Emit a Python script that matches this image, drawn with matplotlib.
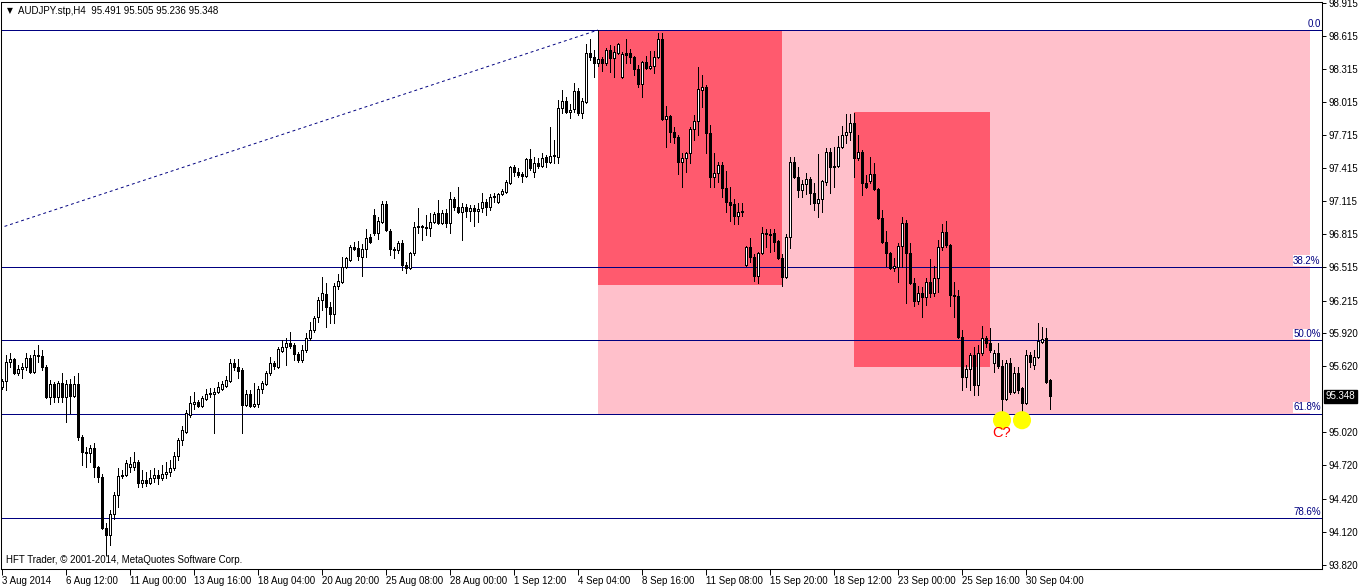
import matplotlib
matplotlib.use('Agg')
import matplotlib.pyplot as plt
from matplotlib.patches import Rectangle
import numpy as np

plt.rcParams['font.family'] = ['Liberation Sans', 'DejaVu Sans']

# AUDJPY H4 bars, 3 Aug 2014 20:00 .. 1 Oct 2014 04:00
opens = [
    95.432, 95.486, 95.658, 95.685, 95.558, 95.595, 95.613, 95.694, 95.567, 95.722,
    95.713, 95.613, 95.341, 95.459, 95.341, 95.468, 95.341, 95.459, 95.350, 95.459,
    94.978, 94.842, 94.833, 94.879, 94.706, 94.616, 94.153, 94.090, 94.280, 94.453,
    94.625, 94.634, 94.706, 94.706, 94.752, 94.561, 94.588, 94.561, 94.606, 94.634,
    94.606, 94.643, 94.661, 94.697, 94.806, 94.951, 95.023, 95.178, 95.278, 95.296,
    95.259, 95.323, 95.368, 95.368, 95.386, 95.413, 95.441, 95.486, 95.649, 95.613,
    95.585, 95.269, 95.368, 95.259, 95.278, 95.413, 95.459, 95.558, 95.649, 95.613,
    95.758, 95.794, 95.830, 95.812, 95.731, 95.676, 95.767, 95.876, 95.948, 96.066,
    96.220, 96.275, 96.157, 96.093, 96.347, 96.383, 96.519, 96.583, 96.701, 96.692,
    96.610, 96.682, 96.791, 96.991, 96.828, 96.927, 97.090, 96.846, 96.682, 96.673,
    96.737, 96.537, 96.510, 96.646, 96.882, 96.891, 96.882, 96.873, 96.927, 97.009,
    96.918, 97.009, 96.918, 97.136, 97.063, 97.018, 97.063, 97.027, 97.054, 97.027,
    97.054, 97.109, 97.063, 97.163, 97.109, 97.181, 97.199, 97.281, 97.426, 97.381,
    97.362, 97.344, 97.498, 97.381, 97.462, 97.435, 97.517, 97.471, 97.535, 97.517,
    97.961, 98.024, 97.925, 97.952, 98.115, 97.916, 98.015, 98.460, 98.423, 98.369,
    98.405, 98.369, 98.487, 98.414, 98.460, 98.242, 98.460, 98.460, 98.423, 98.314,
    98.179, 98.378, 98.323, 98.342, 98.423, 98.586, 97.861, 97.888, 97.743, 97.698,
    97.471, 97.508, 97.553, 97.770, 97.843, 98.124, 98.151, 97.734, 97.335, 97.372,
    97.444, 97.236, 97.109, 97.090, 96.982, 97.018, 96.537, 96.701, 96.610, 96.438,
    96.646, 96.828, 96.819, 96.828, 96.755, 96.601, 96.429, 96.791, 97.471, 97.335,
    97.217, 97.272, 97.317, 97.190, 97.100, 97.136, 97.290, 97.562, 97.426, 97.435,
    97.607, 97.716, 97.743, 97.825, 97.508, 97.562, 97.281, 97.299, 97.362, 97.227,
    96.964, 96.746, 96.646, 96.510, 96.519, 96.710, 96.918, 96.646, 96.374, 96.211,
    96.284, 96.247, 96.383, 96.284, 96.420, 96.701, 96.837, 96.719, 96.266, 96.256,
    95.885, 95.522, 95.595, 95.722, 95.450, 95.740, 95.876, 95.830, 95.649, 95.740,
    95.622, 95.323, 95.649, 95.386, 95.558, 95.422, 95.287, 95.722, 95.631, 95.704,
    95.840, 95.876, 95.491]
highs = [
    95.504, 95.722, 95.740, 95.694, 95.631, 95.649, 95.740, 95.722, 95.767, 95.812,
    95.767, 95.631, 95.495, 95.477, 95.486, 95.558, 95.495, 95.504, 95.531, 95.558,
    94.996, 94.888, 94.906, 94.924, 94.715, 94.643, 94.199, 94.316, 94.480, 94.697,
    94.679, 94.770, 94.797, 94.842, 94.770, 94.679, 94.661, 94.679, 94.697, 94.679,
    94.724, 94.752, 94.770, 94.842, 94.969, 95.078, 95.223, 95.350, 95.386, 95.314,
    95.350, 95.413, 95.422, 95.422, 95.477, 95.486, 95.531, 95.685, 95.685, 95.685,
    95.604, 95.404, 95.404, 95.468, 95.441, 95.486, 95.576, 95.704, 95.667, 95.794,
    95.857, 95.876, 95.930, 95.830, 95.749, 95.812, 95.921, 96.021, 96.075, 96.247,
    96.429, 96.374, 96.202, 96.374, 96.456, 96.610, 96.610, 96.719, 96.746, 96.755,
    96.728, 96.864, 96.819, 97.045, 96.973, 97.118, 97.118, 96.864, 96.701, 96.755,
    96.764, 96.565, 96.655, 96.927, 97.054, 96.900, 96.991, 97.009, 97.018, 97.127,
    97.036, 97.045, 97.199, 97.154, 97.245, 97.100, 97.090, 97.081, 97.081, 97.100,
    97.190, 97.136, 97.181, 97.190, 97.190, 97.227, 97.308, 97.435, 97.444, 97.417,
    97.381, 97.508, 97.589, 97.517, 97.508, 97.553, 97.535, 97.789, 97.671, 98.033,
    98.124, 98.061, 97.997, 98.188, 98.142, 98.052, 98.541, 98.586, 98.487, 98.668,
    98.423, 98.505, 98.532, 98.523, 98.550, 98.469, 98.586, 98.496, 98.432, 98.351,
    98.387, 98.432, 98.478, 98.478, 98.641, 98.641, 97.979, 97.897, 97.789, 97.716,
    97.553, 97.562, 97.789, 97.897, 98.333, 98.260, 98.169, 97.807, 97.553, 97.471,
    97.471, 97.390, 97.245, 97.136, 97.100, 97.100, 96.710, 96.782, 96.637, 96.655,
    96.882, 96.864, 96.864, 96.864, 96.764, 96.637, 96.819, 97.517, 97.517, 97.426,
    97.308, 97.372, 97.335, 97.281, 97.544, 97.308, 97.598, 97.598, 97.607, 97.707,
    97.798, 97.906, 97.906, 97.916, 97.716, 97.580, 97.353, 97.517, 97.462, 97.236,
    97.036, 96.846, 96.655, 96.601, 96.737, 96.973, 96.945, 96.737, 96.420, 96.347,
    96.338, 96.420, 96.592, 96.528, 96.764, 96.909, 96.936, 96.728, 96.383, 96.311,
    95.948, 95.631, 95.740, 95.794, 95.812, 95.984, 95.894, 95.966, 95.767, 95.830,
    95.676, 95.676, 95.694, 95.613, 95.613, 95.432, 95.767, 95.749, 95.767, 96.012,
    95.975, 95.966, 95.505]
lows = [
    95.413, 95.404, 95.613, 95.549, 95.540, 95.513, 95.585, 95.558, 95.558, 95.658,
    95.585, 95.332, 95.278, 95.296, 95.296, 95.296, 95.114, 95.196, 95.341, 94.951,
    94.724, 94.706, 94.752, 94.616, 94.570, 94.144, 93.909, 93.999, 94.235, 94.343,
    94.606, 94.625, 94.661, 94.679, 94.525, 94.525, 94.534, 94.552, 94.570, 94.552,
    94.588, 94.606, 94.625, 94.679, 94.770, 94.906, 95.014, 95.159, 95.232, 95.250,
    95.250, 95.314, 95.341, 95.014, 95.377, 95.404, 95.432, 95.477, 95.585, 95.513,
    95.014, 95.259, 95.250, 95.250, 95.250, 95.377, 95.450, 95.540, 95.595, 95.604,
    95.749, 95.631, 95.785, 95.676, 95.658, 95.658, 95.749, 95.857, 95.930, 96.021,
    96.129, 95.975, 96.012, 96.012, 96.320, 96.374, 96.510, 96.574, 96.673, 96.583,
    96.438, 96.610, 96.737, 96.810, 96.773, 96.918, 96.846, 96.628, 96.601, 96.646,
    96.492, 96.465, 96.501, 96.628, 96.828, 96.764, 96.810, 96.800, 96.918, 96.909,
    96.909, 96.882, 96.828, 97.036, 97.009, 96.764, 96.973, 96.936, 96.891, 96.927,
    97.018, 96.991, 97.036, 97.109, 97.100, 97.172, 97.190, 97.272, 97.344, 97.335,
    97.290, 97.335, 97.399, 97.335, 97.417, 97.426, 97.426, 97.462, 97.462, 97.462,
    97.916, 97.916, 97.870, 97.925, 97.897, 97.870, 98.006, 98.396, 98.242, 98.342,
    98.296, 98.351, 98.287, 98.242, 98.450, 98.233, 98.369, 98.369, 98.260, 98.151,
    98.061, 98.314, 98.314, 98.278, 98.414, 97.852, 97.607, 97.653, 97.643, 97.362,
    97.245, 97.381, 97.462, 97.671, 97.716, 97.970, 97.553, 97.245, 97.245, 97.290,
    97.154, 97.018, 96.936, 96.909, 96.909, 96.982, 96.528, 96.565, 96.392, 96.374,
    96.637, 96.701, 96.655, 96.664, 96.592, 96.347, 96.420, 96.692, 97.326, 97.154,
    97.154, 97.181, 97.090, 97.036, 96.973, 97.018, 97.263, 97.190, 97.245, 97.426,
    97.598, 97.643, 97.671, 97.335, 97.489, 97.172, 97.236, 97.281, 97.217, 96.954,
    96.737, 96.528, 96.501, 96.483, 96.383, 96.519, 96.193, 96.365, 96.166, 96.184,
    96.066, 96.175, 96.247, 96.256, 96.293, 96.673, 96.701, 96.166, 96.066, 95.876,
    95.404, 95.432, 95.404, 95.359, 95.359, 95.722, 95.794, 95.749, 95.567, 95.604,
    95.205, 95.314, 95.368, 95.377, 95.377, 95.205, 95.278, 95.613, 95.595, 95.694,
    95.830, 95.468, 95.236]
closes = [
    95.486, 95.658, 95.685, 95.558, 95.595, 95.613, 95.694, 95.567, 95.722, 95.713,
    95.613, 95.341, 95.459, 95.341, 95.468, 95.341, 95.459, 95.350, 95.459, 94.978,
    94.842, 94.833, 94.879, 94.706, 94.616, 94.153, 94.090, 94.280, 94.453, 94.625,
    94.634, 94.743, 94.734, 94.752, 94.561, 94.588, 94.561, 94.606, 94.634, 94.606,
    94.643, 94.661, 94.697, 94.806, 94.951, 95.042, 95.196, 95.287, 95.296, 95.259,
    95.332, 95.368, 95.377, 95.386, 95.432, 95.459, 95.495, 95.649, 95.613, 95.576,
    95.269, 95.368, 95.259, 95.278, 95.413, 95.468, 95.558, 95.649, 95.622, 95.776,
    95.794, 95.830, 95.803, 95.731, 95.676, 95.767, 95.876, 95.948, 96.057, 96.220,
    96.284, 96.157, 96.093, 96.347, 96.392, 96.519, 96.601, 96.701, 96.682, 96.619,
    96.682, 96.782, 96.746, 96.828, 96.936, 97.090, 96.855, 96.682, 96.673, 96.737,
    96.537, 96.510, 96.646, 96.882, 96.891, 96.882, 96.873, 96.927, 97.000, 96.918,
    97.009, 96.918, 97.136, 97.063, 97.018, 97.063, 97.027, 97.054, 97.027, 97.045,
    97.109, 97.063, 97.154, 97.154, 97.181, 97.208, 97.290, 97.426, 97.381, 97.353,
    97.344, 97.498, 97.417, 97.462, 97.435, 97.508, 97.471, 97.526, 97.526, 97.961,
    98.024, 97.925, 97.943, 98.115, 97.916, 98.024, 98.460, 98.423, 98.369, 98.405,
    98.369, 98.487, 98.414, 98.469, 98.541, 98.450, 98.441, 98.423, 98.314, 98.179,
    98.378, 98.323, 98.342, 98.423, 98.586, 97.861, 97.888, 97.743, 97.698, 97.471,
    97.508, 97.553, 97.770, 97.843, 98.133, 98.151, 97.734, 97.335, 97.372, 97.444,
    97.236, 97.109, 97.081, 96.982, 97.018, 97.027, 96.701, 96.610, 96.438, 96.646,
    96.828, 96.819, 96.810, 96.746, 96.601, 96.429, 96.791, 97.471, 97.335, 97.217,
    97.272, 97.317, 97.190, 97.100, 97.136, 97.299, 97.562, 97.426, 97.435, 97.607,
    97.716, 97.743, 97.825, 97.508, 97.562, 97.281, 97.245, 97.362, 97.227, 96.964,
    96.746, 96.646, 96.510, 96.528, 96.710, 96.918, 96.646, 96.374, 96.211, 96.284,
    96.247, 96.383, 96.284, 96.420, 96.701, 96.837, 96.719, 96.266, 96.256, 95.885,
    95.522, 95.595, 95.722, 95.450, 95.740, 95.876, 95.830, 95.767, 95.740, 95.622,
    95.323, 95.649, 95.386, 95.558, 95.404, 95.287, 95.722, 95.658, 95.704, 95.849,
    95.867, 95.477, 95.348]

# one label every 16 bars
date_labels = ['3 Aug 2014', '6 Aug 12:00', '11 Aug 00:00', '13 Aug 16:00', '18 Aug 04:00',
               '20 Aug 20:00', '25 Aug 08:00', '28 Aug 00:00', '1 Sep 12:00', '4 Sep 04:00',
               '8 Sep 16:00', '11 Sep 08:00', '15 Sep 20:00', '18 Sep 12:00', '23 Sep 00:00',
               '25 Sep 16:00', '30 Sep 04:00']
# 95.320 sits under the current price box
price_ticks = [98.915, 98.615, 98.315, 98.015, 97.715, 97.415, 97.115, 96.815, 96.515,
               96.215, 95.920, 95.620, 95.020, 94.720, 94.420, 94.120, 93.820]

# fibonacci retracement, anchored on bars (low is off the left edge)
fib_low_bar, fib_low = -320, 93.039
fib_high_bar, fib_high = 149, 98.668
fib_ratios = [0.0, 0.382, 0.5, 0.618, 0.786]
fib_names = ['0.0', '38.2%', '50.0%', '61.8%', '78.6%']

# rectangles: first bar, last bar, bottom price, top price
zone_start = [149, 149, 213]
zone_end = [327, 195, 247]
zone_bottom = [95.189, 96.356, 95.613]
zone_top = [98.668, 98.668, 97.925]
zone_colors = ['#ffc0cb', '#ff5a6e', '#ff5a6e']

mark_bars = [250, 255]
mark_prices = [95.13, 95.13]

o = np.array(opens)
h = np.array(highs)
l = np.array(lows)
c = np.array(closes)
x = np.arange(len(c))

fig = plt.figure(figsize=(13.62, 5.86), dpi=100)
ax = fig.add_axes([1 / 1362, 17 / 586, 1321 / 1362, 567 / 586])

for x0, x1, y0, y1, col in zip(zone_start, zone_end, zone_bottom, zone_top, zone_colors):
    ax.add_patch(Rectangle((x0, y0), x1 - x0, y1 - y0, facecolor=col, edgecolor='none', zorder=0))

navy = '#000080'
for r, name in zip(fib_ratios, fib_names):
    lev = fib_high - r * (fib_high - fib_low)
    ax.axhline(lev, color=navy, linewidth=0.7, zorder=2, antialiased=False)
    ax.text(0.999, lev + 0.012, name, transform=ax.get_yaxis_transform(), ha='right', va='bottom',
            fontsize=7, color=navy, zorder=6,
            bbox=dict(facecolor='white', edgecolor='none', pad=0.3))
ax.plot([fib_low_bar, fib_high_bar], [fib_low, fib_high], color=navy, linewidth=0.7,
        linestyle=(0, (3, 3)), zorder=2)

# candles: thin wicks, 3 px bodies
lw = 0.7
up = c >= o
body = np.maximum(np.abs(c - o), 0.004)
ax.vlines(x, l, h, color='black', linewidth=lw, zorder=3, antialiased=False)
ax.bar(x[up], body[up], bottom=o[up], width=0.5, color='white', edgecolor='black',
       linewidth=lw, zorder=4, antialiased=False)
ax.bar(x[~up], body[~up], bottom=c[~up], width=0.5, color='black', edgecolor='black',
       linewidth=lw, zorder=4, antialiased=False)

ax.scatter(mark_bars, mark_prices, s=170, color='#ffff00', edgecolors='none', zorder=5)
ax.text(mark_bars[0], mark_prices[0] - 0.115, 'C?', color='red', fontsize=10.5,
        ha='center', va='center', zorder=6)

ax.set_xlim(-0.25, 330)
ax.set_ylim(93.781, 98.922)

ax.set_xticks(np.arange(len(date_labels)) * 16)
ax.set_xticklabels(date_labels, ha='left')
ax.set_yticks(price_ticks)
ax.set_yticklabels(['%.3f' % p for p in price_ticks])
ax.yaxis.tick_right()
ax.tick_params(axis='y', direction='out', length=3, width=0.7, labelsize=7, pad=2)
ax.tick_params(axis='x', direction='out', length=4, width=0.7, labelsize=7, pad=1)
for s in ax.spines.values():
    s.set_linewidth(0.75)

# current price box on the price scale
ax.text(1.003, c[-1], '%.3f' % c[-1], transform=ax.get_yaxis_transform(), color='white',
        fontsize=7, ha='left', va='center', zorder=10, clip_on=False,
        bbox=dict(facecolor='black', edgecolor='black', pad=1.2))

fig.text(7 / 1362, 1 - 11 / 586, '\u25bc', fontsize=5.5, va='center', family='DejaVu Sans')
fig.text(18 / 1362, 1 - 11 / 586,
         'AUDJPY.stp,H4  %.3f %.3f %.3f %.3f' % (o[-1], h[-1], l[-1], c[-1]),
         fontsize=7, va='center')
fig.text(6 / 1362, 1 - 560 / 586, 'HFT Trader, \u00a9 2001-2014, MetaQuotes Software Corp.',
         fontsize=7, va='center')

fig.savefig('out.png', dpi=100)
